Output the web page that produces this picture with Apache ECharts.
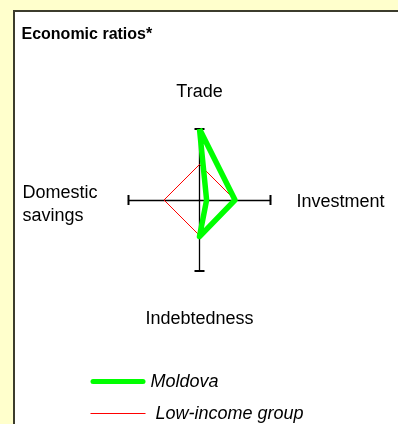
<!DOCTYPE html>
<html>
<head>
<meta charset="utf-8">
<script src="https://cdn.jsdelivr.net/npm/echarts@6/dist/echarts.min.js"></script>
<style>
html,body{margin:0;padding:0;background:#FFFFCC;}
#chart{width:398px;height:424px;}
</style>
</head>
<body>
<div id="chart"></div>
<script>
// Data
var indicators = ['Trade', 'Domestic savings', 'Indebtedness', 'Investment'];
var axisMax = 2;
var moldova = [2.0, -0.2, 1.03, 1.0];
var lowIncome = [1.0, 1.0, 1.0, 1.0];
var seriesNames = ['Moldova', 'Low-income group'];

var FONT = '"Liberation Sans", Arial, sans-serif';
var chart = echarts.init(document.getElementById('chart'), null, {renderer: 'canvas'});

chart.setOption({
  backgroundColor: 'transparent',
  animation: false,
  color: ['#00FF00', '#FF0000'],
  graphic: [{
    type: 'rect',
    z: -10,
    shape: {x: 14, y: 11, width: 420, height: 440},
    style: {fill: '#ffffff', stroke: '#3c3c2c', lineWidth: 2}
  }],
  title: {
    text: 'Economic ratios*',
    left: 21.5,
    top: 26.5,
    padding: 0,
    textStyle: {fontFamily: FONT, fontSize: 16, fontWeight: 'bold', color: '#000'}
  },
  legend: {
    orient: 'vertical',
    left: 90.5,
    top: 371,
    itemWidth: 55,
    itemHeight: 21,
    itemGap: 11,
    padding: 0,
    textStyle: {fontFamily: FONT, fontSize: 18, fontStyle: 'italic', color: '#000', lineHeight: 21},
    data: [
      {name: seriesNames[0], icon: 'path://M2.5,0h50a2.5,2.5 0 0 1 0,5h-50a2.5,2.5 0 0 1 0,-5z',
        itemStyle: {color: '#00FF00', borderWidth: 0}},
      {name: seriesNames[1], icon: 'path://M0,0h55v1h-55z',
        itemStyle: {color: '#FF0000', borderWidth: 0},
        textStyle: {padding: [0, 0, 0, 5]}}
    ]
  },
  radar: {
    center: [199.5, 200],
    radius: 71,
    startAngle: 90,
    splitNumber: 1,
    shape: 'polygon',
    indicator: indicators.map(function (n) { return {name: n, min: 0, max: axisMax}; }),
    nameGap: 26,
    axisName: {
      color: '#000',
      fontFamily: FONT,
      fontSize: 18,
      formatter: function (name) {
        if (name === 'Trade') return '{t|Trade}';
        if (name === 'Indebtedness') return '{b|Indebtedness}';
        if (name === 'Domestic savings') return '{e| }\n{d|Domestic}\n{d|savings}';
        return '{r|' + name + '}';
      },
      rich: {
        t: {fontFamily: FONT, fontSize: 18, color: '#000', padding: [0, 0, 2, 0]},
        b: {fontFamily: FONT, fontSize: 18, color: '#000', padding: [13, 0, 0, 0]},
        r: {fontFamily: FONT, fontSize: 18, color: '#000', padding: [4, 0, 0, 0]},
        e: {fontFamily: FONT, fontSize: 2, lineHeight: 10, width: 80},
        d: {fontFamily: FONT, fontSize: 18, color: '#000', width: 78, align: 'left', lineHeight: 23, padding: [0, 2, 0, 0]}
      }
    },
    axisLine: {
      show: true,
      symbol: ['none', 'rect'],
      symbolSize: [10, 2],
      lineStyle: {color: '#000', width: 1.3}
    },
    axisTick: {show: false},
    axisLabel: {show: false},
    splitLine: {show: false},
    splitArea: {show: false}
  },
  series: [
    {
      type: 'radar',
      name: seriesNames[1],
      symbol: 'none',
      z: 3,
      itemStyle: {color: '#FF0000'},
      lineStyle: {color: '#FF0000', width: 1, type: 'solid'},
      data: [{name: seriesNames[1], value: lowIncome}]
    },
    {
      type: 'radar',
      name: seriesNames[0],
      symbol: 'none',
      z: 4,
      itemStyle: {color: '#00FF00'},
      lineStyle: {color: '#00FF00', width: 5.5, type: 'solid'},
      data: [{name: seriesNames[0], value: moldova}]
    }
  ]
});
</script>
</body>
</html>
